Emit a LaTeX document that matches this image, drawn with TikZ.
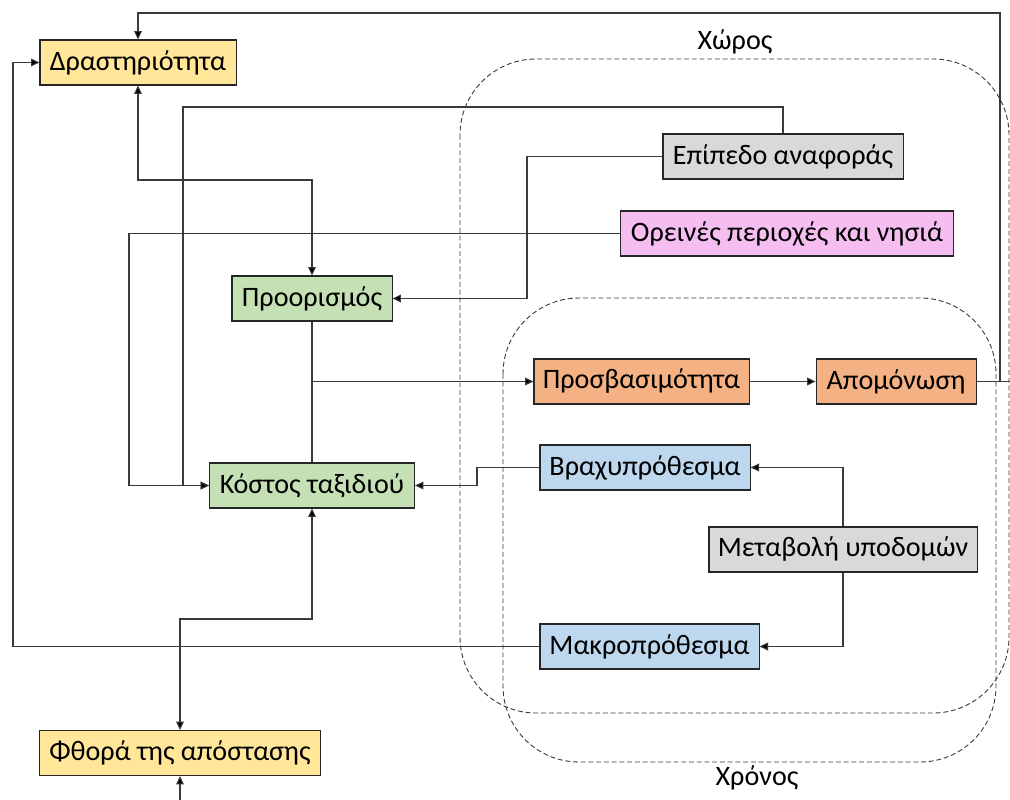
\documentclass[tikz,border=0pt]{standalone}
\usepackage{fontspec}
\setmainfont{Carlito}
\usepackage{tikz}
\usetikzlibrary{arrows.meta,positioning}
\definecolor{boxyellow}{HTML}{FFE699}
\definecolor{boxgrey}{HTML}{D9D9D9}
\definecolor{boxpink}{HTML}{F6BDF1}
\definecolor{boxgreen}{HTML}{C5E0B4}
\definecolor{boxorange}{HTML}{F4B183}
\definecolor{boxblue}{HTML}{BDD7EE}
\definecolor{linegrey}{HTML}{3A3A3A}
\begin{document}
\begin{tikzpicture}[x=0.025cm, y=-0.025cm,
      box/.style={draw=black!85, line width=0.75pt, minimum height=1.125cm,
                  inner sep=0pt, font=\fontsize{20}{23}\selectfont},
      yel/.style={box, fill=boxyellow},
      gry/.style={box, fill=boxgrey},
      pnk/.style={box, fill=boxpink},
      grn/.style={box, fill=boxgreen},
      orn/.style={box, fill=boxorange},
      blu/.style={box, fill=boxblue},
      lbl/.style={font=\fontsize{20}{23}\selectfont},
      ln/.style={draw=linegrey, line width=0.75pt},
      arr/.style={ln, -{Triangle[length=6pt,width=5.5pt,fill=black]}},
      dbl/.style={ln, {Triangle[length=6pt,width=5.5pt,fill=black]}-{Triangle[length=6pt,width=5.5pt,fill=black]}},
      zone/.style={draw=linegrey, line width=0.65pt, dash pattern=on 3.5pt off 2pt,
                   rounded corners=1.9cm}
  ]
    \useasboundingbox (0,0) rectangle (1010,800);
    % dashed areas
    \draw[zone] (460,59) rectangle (1009,713);
    \draw[zone] (503,298) rectangle (996,762);
    \node[lbl] (xoros) at (735,42) {Χώρος};
    \node[lbl] (xronos) at (757,778) {Χρόνος};
    % boxes
    \node[yel, minimum width=4.9cm] (drast) at (138,62.5) {Δραστηριότητα};
    \node[gry, minimum width=6cm] (epip) at (783,156.5) {Επίπεδο αναφοράς};
    \node[pnk, minimum width=8.3cm] (orein) at (787,233.5) {Ορεινές περιοχές και νησιά};
    \node[grn, minimum width=4cm] (proor) at (312,298.5) {Προορισμός};
    \node[orn, minimum width=5.375cm] (prosv) at (641.5,381.5) {Προσβασιμότητα};
    \node[orn, minimum width=4cm, right=1.65cm of prosv] (apom) {Απομόνωση};
    \node[blu, minimum width=5.25cm] (vrax) at (645,467.5) {Βραχυπρόθεσμα};
    \node[grn, minimum width=5.125cm] (kost) at (312,485.5) {Κόστος ταξιδιού};
    \node[gry, minimum width=6.7cm] (metav) at (843,549.5) {Μεταβολή υποδομών};
    \node[blu, minimum width=5.475cm] (makro) at (649.5,646.5) {Μακροπρόθεσμα};
    \node[yel, minimum width=7cm] (fthora) at (180,753) {Φθορά της απόστασης};
    % rails for the connectors
    \coordinate (topr) at (1000,13);
    \coordinate (edge) at (1010,0);
    \coordinate (leftr) at (13,0);
    \coordinate (rail1) at (183,107);
    \coordinate (rail2) at (129,0);
    \coordinate (rail3) at (527,0);
    \coordinate (rail4) at (0,180);
    \coordinate (kink) at (477,0);
    \coordinate (rail5) at (0,619);
    \coordinate (bottom) at (0,800);
    % connectors
    \draw[ln] (apom.east) -- (apom.east -| edge);
    \draw[arr] (apom.east) -| (topr) -| (drast.north);
    \draw[arr] (makro.west) -- (makro.west -| leftr) |- (drast.west);
    \draw[arr] (epip.north) |- (rail1) |- (kost.west);
    \draw[arr] (orein.west) -- (orein.west -| rail2) |- (kost.west);
    \draw[arr] (epip.west) -- (epip.west -| rail3) |- (proor.east);
    \draw[dbl] (drast.south) -- (drast.south |- rail4) -| (proor.north);
    \draw[ln] (proor.south) -- (kost.north);
    \draw[arr] (proor.south |- prosv.west) -- (prosv.west);
    \draw[arr] (prosv) -- (apom);
    \draw[arr] (vrax.west) -- (vrax.west -| kink) |- (kost.east);
    \draw[arr] (metav.north) |- (vrax.east);
    \draw[arr] (metav.south) |- (makro.east);
    \draw[dbl] (fthora.north) -- (fthora.north |- rail5) -| (kost.south);
    \draw[arr] (fthora.south |- bottom) -- (fthora.south);
  \end{tikzpicture}
\end{document}
